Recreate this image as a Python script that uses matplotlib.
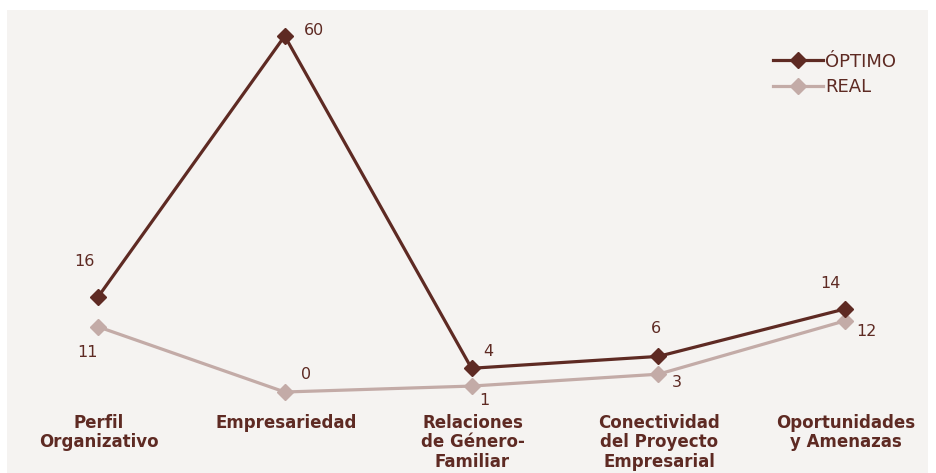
import matplotlib.pyplot as plt

# chart values
categories = ['Perfil\nOrganizativo', 'Empresariedad', 'Relaciones\nde Género-\nFamiliar',
              'Conectividad\ndel Proyecto\nEmpresarial', 'Oportunidades\ny Amenazas']
optimo = [16, 60, 4, 6, 14]
real = [11, 0, 1, 3, 12]

# label offsets in pixels (dx, dy) from each point
optimo_offsets = [(-14, 36), (29, 5), (17, 17), (-2, 28), (-15, 25)]
real_offsets = [(-10, -26), (21, 18), (13, -14), (19, -8), (21, -11)]

dark = '#5e2a23'
light = '#c3aba7'
bg = '#f5f3f1'

fig = plt.figure(figsize=(9.36, 4.73), dpi=100)
fig.patch.set_facecolor('white')
ax = fig.add_axes([7 / 936, 0, 921 / 936, 463 / 473])
ax.set_facecolor(bg)

x = list(range(len(categories)))
ax.plot(x, optimo, color=dark, lw=2.3, marker='D', ms=8, label='ÓPTIMO', zorder=3)
ax.plot(x, real, color=light, lw=2.3, marker='D', ms=8, label='REAL', zorder=2)

px = 0.72  # points per pixel at 100 dpi
for xi, v, (dx, dy) in zip(x, optimo, optimo_offsets):
    ax.annotate(str(v), (xi, v), xytext=(dx * px, dy * px), textcoords='offset points',
                ha='center', va='center', fontsize=11.5, color=dark)
for xi, v, (dx, dy) in zip(x, real, real_offsets):
    ax.annotate(str(v), (xi, v), xytext=(dx * px, dy * px), textcoords='offset points',
                ha='center', va='center', fontsize=11.5, color=dark)

# category labels under the chart
for xi, lab in zip(x, categories):
    ax.annotate(lab, (xi, 0), xytext=(1 * px, -22 * px), textcoords='offset points',
                ha='center', va='top', fontsize=12, fontweight='bold', color=dark,
                linespacing=1.1)

ax.set_xlim(-0.487, 4.444)
ax.set_ylim(-13.65, 64.38)
ax.set_xticks([])
ax.set_yticks([])
for s in ax.spines.values():
    s.set_visible(False)

leg = fig.legend(loc='upper left', bbox_to_anchor=(0.826, 0.889), frameon=False,
                 fontsize=13, handlelength=2.75, handletextpad=0.15, labelspacing=0.42,
                 borderpad=0, borderaxespad=0)
for t in leg.get_texts():
    t.set_color(dark)

fig.savefig('out.png', dpi=100, facecolor=fig.get_facecolor())
